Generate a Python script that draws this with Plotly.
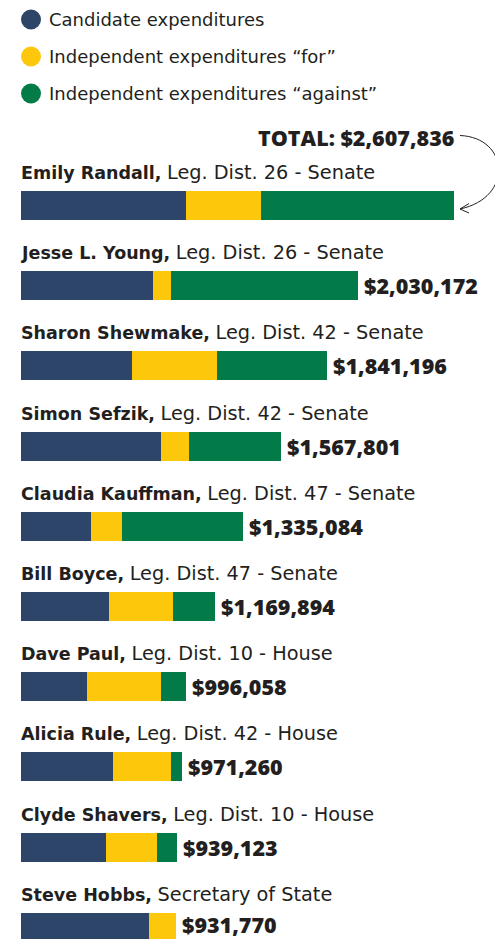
import plotly.graph_objects as go

# ---------------- data ----------------
names = ["Emily Randall", "Jesse L. Young", "Sharon Shewmake", "Simon Sefzik",
         "Claudia Kauffman", "Bill Boyce", "Dave Paul", "Alicia Rule",
         "Clyde Shavers", "Steve Hobbs"]
races = ["Leg. Dist. 26 - Senate", "Leg. Dist. 26 - Senate", "Leg. Dist. 42 - Senate",
         "Leg. Dist. 42 - Senate", "Leg. Dist. 47 - Senate", "Leg. Dist. 47 - Senate",
         "Leg. Dist. 10 - House", "Leg. Dist. 42 - House", "Leg. Dist. 10 - House",
         "Secretary of State"]
candidate_exp = [993700, 795000, 668500, 843200, 421600, 530000, 397500, 554100, 511900, 770900]
ie_for = [451700, 108400, 511900, 168600, 186700, 385500, 445700, 349300, 307200, 160870]
ie_against = [1162436, 1126772, 660796, 556001, 726784, 254394, 152858, 67860, 120023, 0]
totals = [2607836, 2030172, 1841196, 1567801, 1335084, 1169894, 996058, 971260, 939123, 931770]
series_names = ["Candidate expenditures", "Independent expenditures \u201cfor\u201d",
                "Independent expenditures \u201cagainst\u201d"]

# ---------------- style ----------------
NAVY, YELLOW, GREEN, INK = "#2C4569", "#FDC80C", "#037B49", "#231F20"
COLORS = [NAVY, YELLOW, GREEN]
FONT = "DejaVu Sans"
VALUE_FONT = "Open Sans"
W, H = 495, 939
BAR_LEFT_PX = 21
PX_PER_DOLLAR = 433 / 2607836
ROW_PX = 80.2
FIRST_ROW_PX = 205.5
BAR_PX = 29
LEGEND_ROW0_PX, LEGEND_STEP_PX = 19.5, 37
LEGEND_DOT_X_PX, LEGEND_DOT_D_PX, LEGEND_TEXT_X_PX = 31, 20, 49

x_lo = -BAR_LEFT_PX / PX_PER_DOLLAR
x_hi = (W - BAR_LEFT_PX) / PX_PER_DOLLAR
y_top = -FIRST_ROW_PX / ROW_PX
y_bot = (H - FIRST_ROW_PX) / ROW_PX

fig = go.Figure()
for vals, col, nm in zip([candidate_exp, ie_for, ie_against], COLORS, series_names):
    fig.add_trace(go.Bar(y=names, x=vals, orientation="h", name=nm,
                         marker=dict(color=col, line=dict(width=0)),
                         width=BAR_PX / ROW_PX, showlegend=False,
                         hovertemplate="%{y}: $%{x:,}<extra>" + nm + "</extra>"))

annotations, shapes = [], []

# legend (dots + text), drawn in page pixels converted to paper units
for i, (nm, col) in enumerate(zip(series_names, COLORS)):
    cy = LEGEND_ROW0_PX + i * LEGEND_STEP_PX
    r = LEGEND_DOT_D_PX / 2
    shapes.append(dict(type="circle", xref="paper", yref="paper",
                       x0=(LEGEND_DOT_X_PX - r) / W, x1=(LEGEND_DOT_X_PX + r) / W,
                       y0=1 - (cy + r) / H, y1=1 - (cy - r) / H,
                       fillcolor=col, line=dict(width=0)))
    annotations.append(dict(x=LEGEND_TEXT_X_PX / W, y=1 - cy / H, xref="paper", yref="paper",
                            xanchor="left", yanchor="middle", xshift=-2, showarrow=False, text=nm,
                            font=dict(family=FONT, size=18, color=INK)))

for i, (nm, rc, tot) in enumerate(zip(names, races, totals)):
    annotations.append(dict(x=0, y=nm, xref="x", yref="y", xanchor="left", yanchor="middle",
                            xshift=-2, yshift=33, showarrow=False,
                            text=f"<b>{nm},</b> <span style='font-size:19.3px'>{rc}</span>",
                            font=dict(family=FONT, size=17.5, color=INK)))
    if i == 0:
        annotations.append(dict(x=tot, y=nm, xref="x", yref="y", xanchor="right", yanchor="middle",
                                yshift=68.5, xshift=2, showarrow=False,
                                text=f"TOTAL: ${tot:,}",
                                font=dict(family=VALUE_FONT, size=21.5, color=INK, weight=800)))
    else:
        annotations.append(dict(x=tot, y=nm, xref="x", yref="y", xanchor="left", yanchor="middle",
                                xshift=5, yshift=3 if i == len(names) - 1 else 0,
                                borderpad=0, showarrow=False, text=f"${tot:,}",
                                font=dict(family=VALUE_FONT, size=21.5, color=INK, weight=800)))

# curved arrow from TOTAL label to the first bar
def px_x(dollars, dpx):
    return dollars + dpx / PX_PER_DOLLAR

def px_y(idx, dpx):
    return idx + dpx / ROW_PX

t0 = totals[0]
p0 = (px_x(t0, 6), px_y(0, -70))
c1 = (px_x(t0, 55), px_y(0, -68))
c2 = (px_x(t0, 60), px_y(0, -8))
p1 = (px_x(t0, 6), px_y(0, 3.5))
path = f"M {p0[0]},{p0[1]} C {c1[0]},{c1[1]} {c2[0]},{c2[1]} {p1[0]},{p1[1]}"
head = (f"M {px_x(t0, 15)},{px_y(0, -2)} L {p1[0]},{p1[1]} L {px_x(t0, 15)},{px_y(0, 7.5)}")
shapes += [dict(type="path", path=path, xref="x", yref="y", line=dict(color=INK, width=1)),
           dict(type="path", path=head, xref="x", yref="y", line=dict(color=INK, width=1))]

fig.update_layout(
    width=W, height=H, margin=dict(l=0, r=0, t=0, b=0),
    paper_bgcolor="white", plot_bgcolor="white",
    barmode="stack", bargap=0, showlegend=False,
    xaxis=dict(range=[x_lo, x_hi], visible=False, fixedrange=True),
    yaxis=dict(range=[y_bot, y_top], type="category", categoryorder="array",
               categoryarray=names, visible=False, fixedrange=True),
    annotations=annotations, shapes=shapes,
)

fig.write_html("out.html", config={"displayModeBar": False},
               post_script="document.body.style.margin='0';")
